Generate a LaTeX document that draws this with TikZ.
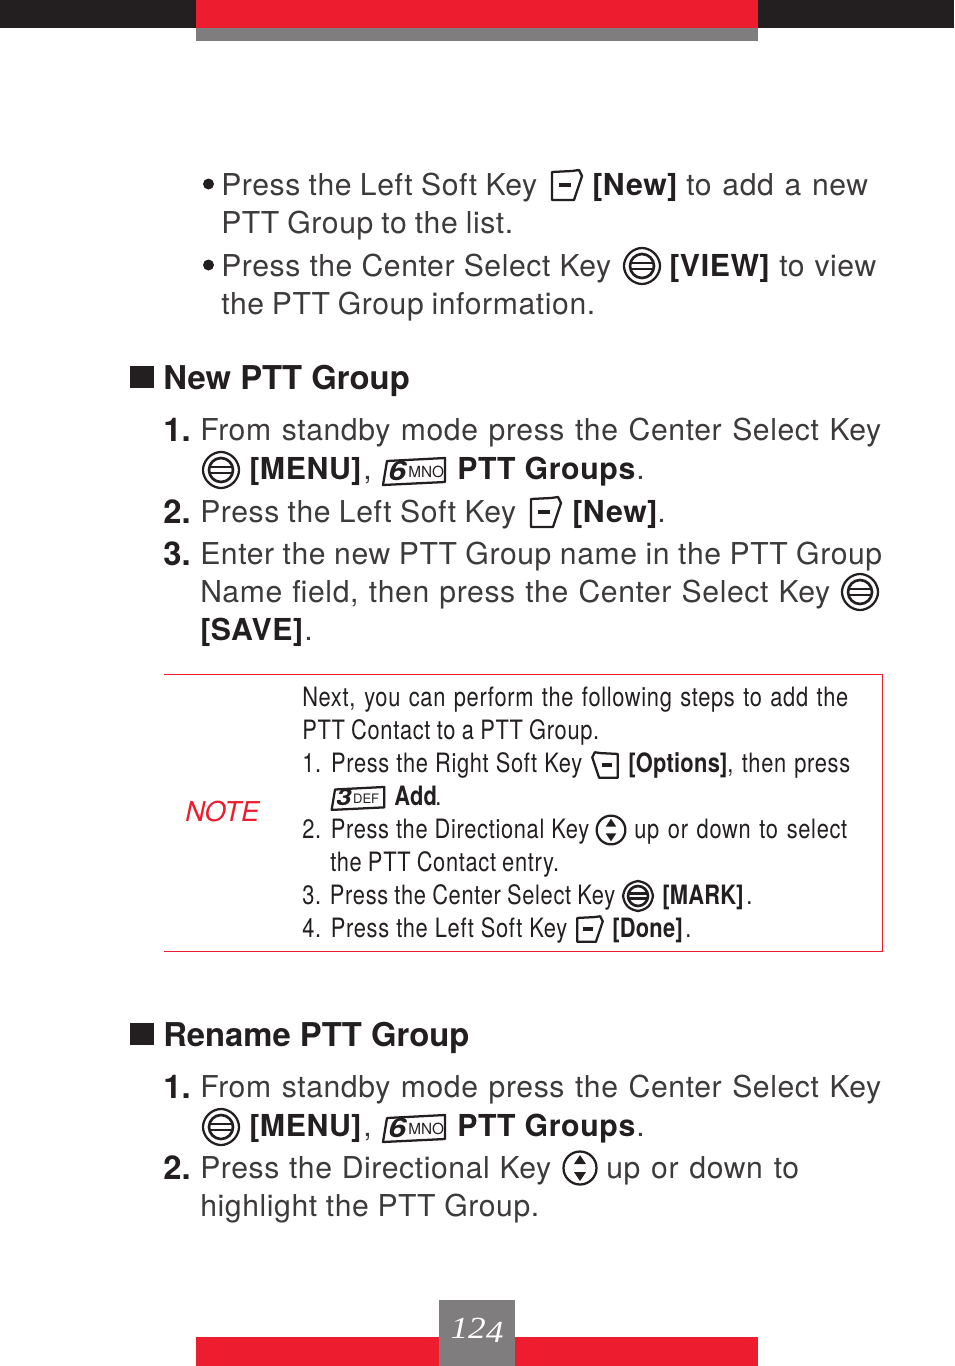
\documentclass[tikz,border=0pt]{standalone}
\usepackage{fontspec}
\setmainfont[LetterSpace=2]{TeX Gyre Heros}
\newfontfamily\headfont{TeX Gyre Heros}
\newfontfamily\notefont[FakeStretch=0.82,LetterSpace=2.5]{TeX Gyre Heros}
\newfontfamily\noteboldfont[FakeStretch=0.82,LetterSpace=1]{TeX Gyre Heros}
\newfontfamily\pagefont[FakeStretch=1.15]{Liberation Serif}
\definecolor{barred}{HTML}{ED1C2E}
\definecolor{bargray}{HTML}{7F7D7E}
\definecolor{inkblack}{HTML}{231F20}

\newlength{\pxlen}
\setlength{\pxlen}{0.75pt}
\newcommand{\fitline}[2]{\makebox[#1\pxlen][s]{#2}}

\tikzset{
    body/.style={anchor=base west,inner sep=0,xshift=-0.75pt,yshift=0.4pt,text=inkblack!88,font=\fontsize{22.6}{24}\selectfont},
    bodybold/.style={body,text=inkblack,font=\fontsize{22.7}{24}\selectfont\bfseries},
    heading/.style={anchor=base west,inner sep=0,xshift=-0.75pt,text=inkblack,font=\fontsize{24.6}{26}\headfont\bfseries},
    note/.style={anchor=base west,inner sep=0,text=inkblack,font=\fontsize{20}{22}\notefont},
    notebold/.style={note,font=\fontsize{20}{22}\noteboldfont\bfseries},
    icon/.style={draw=inkblack,line width=1.7pt,line join=round},
    pics/softkey/.style={code={
        \draw[icon] (-15,-13) -- (5,-14) -- (12,-15) -- (15,-9) -- (7,15) -- (-15,15) -- cycle;
        \draw[icon,line width=2.3pt] (-8,0) -- (4,0);
    }},
    pics/selectkey/.style={code={
        \draw[icon,rounded corners=5pt] (18,-7) -- (7,-18) -- (-7,-18) -- (-18,-7) -- (-18,7) -- (-7,18) -- (7,18) -- (18,7) -- cycle;
        \draw[icon,line width=2pt] (0,0) circle (12);
        \draw[icon,line width=1.8pt] (-12,-3) -- (12,-3);
        \draw[icon,line width=1.8pt] (-12,3) -- (12,3);
    }},
    pics/dirkey/.style={code={
        \draw[icon] (0,0) circle (16.5);
        \fill[inkblack] (0,-13) -- (6,-4) -- (-6,-4) -- cycle;
        \fill[inkblack] (0,13) -- (6,4) -- (-6,4) -- cycle;
    }},
    pics/numkey/.style 2 args={code={
        \draw[icon] (-27,-10) -- (31,-13) -- (31,11) -- (-31,14) -- cycle;
        \node (-digit) [anchor=base west,inner sep=0,transform shape,xscale=1.2,text=inkblack,font=\fontsize{20}{20}\headfont\bfseries\itshape] at (-26,9) {#1};
        \node (-letters) [anchor=base west,inner sep=0,transform shape,text=inkblack,font=\fontsize{11.5}{12}\headfont] at (-6,6.5) {#2};
    }}
}

\begin{document}
\begin{tikzpicture}[x=0.75pt,y=-0.75pt]
    \useasboundingbox (0,0) rectangle (954,1366);

    % page bars
    \fill[inkblack] (0,0) rectangle (954,28);
    \fill[barred] (196,0) rectangle (758,28);
    \fill[bargray] (196,28) rectangle (758,41);
    \fill[barred] (196,1337) rectangle (758,1366);
    \fill[bargray] (439,1300) rectangle (515,1366);
    \node (pagenum) [anchor=base,inner sep=0,text=white,font=\pagefont\itshape\fontsize{23}{24}\selectfont] at (477,1338) {12\raisebox{-3pt}{4}};

    % bullets on top
    \fill[inkblack] (208.5,184) circle (5.5);
    \node (top1) [body] at (222,196) {\fitline{316}{Press the Left Soft Key}};
    \pic (top1key) at (567,185) {softkey};
    \node (top1new) [bodybold] at (593,196) {[New]};
    \node (top1end) [body] at (687,196) {\fitline{182}{to add a new}};
    \node (top2) [body] at (222,234) {\fitline{292}{PTT Group to the list.}};
    \fill[inkblack] (208.5,265) circle (5.5);
    \node (top3) [body] at (222,277) {\fitline{390}{Press the Center Select Key}};
    \pic (top3key) at (642,266) {selectkey};
    \node (top3view) [bodybold] at (670,277) {[VIEW]};
    \node (top3end) [body] at (780,277) {\fitline{97}{to view}};
    \node (top4) [body] at (222,315) {\fitline{374}{the PTT Group information.}};

    % new group
    \fill[inkblack] (130,366) rectangle (154,388);
    \node (newhead) [heading] at (164,389) {New PTT Group};
    \node (new1num) [heading] at (164,441) {1.};
    \node (new1) [body] at (201,441) {\fitline{681}{From standby mode press the Center Select Key}};
    \pic (new1key) at (221,470) {selectkey};
    \node (new1menu) [bodybold] at (250,480) {[MENU]};
    \node (new1comma) [body] at (364,480) {,};
    \pic (new1six) at (414,471) {numkey={6}{MNO}};
    \node (new1groups) [bodybold] at (458,480) {PTT Groups};
    \node (new1dot) [body] at (637,480) {.};
    \node (new2num) [heading] at (164,523) {2.};
    \node (new2) [body] at (201,523) {\fitline{316}{Press the Left Soft Key}};
    \pic (new2key) at (546,512) {softkey};
    \node (new2new) [bodybold] at (573,523) {[New]};
    \node (new2dot) [body] at (658,523) {.};
    \node (new3num) [heading] at (164,565) {3.};
    \node (new3) [body] at (201,565) {\fitline{682}{Enter the new PTT Group name in the PTT Group}};
    \node (new4) [body] at (201,603) {\fitline{630}{Name field, then press the Center Select Key}};
    \pic (new4key) at (860,592) {selectkey};
    \node (new5) [bodybold] at (201,641) {[SAVE]};
    \node (new5dot) [body] at (305,641) {.};

    % note box
    \draw[barred,line width=0.75pt] (164,674.5) -- (882.5,674.5) -- (882.5,951.5) -- (164,951.5);
    \node (notelabel) [anchor=base west,inner sep=0,text=barred,font=\fontsize{20.5}{22}\headfont\itshape] at (185,821) {NOTE};
    \node (note1) [note] at (302,706) {\fitline{546}{Next, you can perform the following steps to add the}};
    \node (note2) [note] at (302,739) {\fitline{297}{PTT Contact to a PTT Group.}};
    \node (note3) [note] at (302,772) {\fitline{280}{1. Press the Right Soft Key}};
    \pic (note3key) [xscale=-0.85,yscale=0.85] at (605,765) {softkey};
    \node (note3opt) [notebold] at (628,772) {[Options]};
    \node (note3end) [note] at (727,772) {\fitline{123}{, then press}};
    \pic (note4three) [scale=0.85] at (358,798) {numkey={3}{DEF}};
    \node (note4add) [notebold] at (394,805) {Add};
    \node (note4dot) [note] at (435,805) {.};
    \node (note5) [note] at (302,838) {\fitline{287}{2. Press the Directional Key}};
    \pic (note5key) [scale=0.87] at (611,830) {dirkey};
    \node (note5end) [note] at (634,838) {\fitline{213}{up or down to select}};
    \node (note6) [note] at (330,871) {\fitline{229}{the PTT Contact entry.}};
    \node (note7) [note] at (302,904) {\fitline{313}{3. Press the Center Select Key}};
    \pic (note7key) [scale=0.83] at (638,896) {selectkey};
    \node (note7mark) [notebold] at (662,904) {[MARK]};
    \node (note7dot) [note] at (746,904) {.};
    \node (note8) [note] at (302,937) {\fitline{265}{4. Press the Left Soft Key}};
    \pic (note8key) [scale=0.85] at (590,929) {softkey};
    \node (note8done) [notebold] at (612,937) {[Done]};
    \node (note8dot) [note] at (685,937) {.};

    % rename group
    \fill[inkblack] (130,1023) rectangle (154,1045);
    \node (renhead) [heading] at (164,1046) {Rename PTT Group};
    \node (ren1num) [heading] at (164,1098) {1.};
    \node (ren1) [body] at (201,1098) {\fitline{681}{From standby mode press the Center Select Key}};
    \pic (ren1key) at (221,1127) {selectkey};
    \node (ren1menu) [bodybold] at (250,1137) {[MENU]};
    \node (ren1comma) [body] at (364,1137) {,};
    \pic (ren1six) at (414,1128) {numkey={6}{MNO}};
    \node (ren1groups) [bodybold] at (458,1137) {PTT Groups};
    \node (ren1dot) [body] at (637,1137) {.};
    \node (ren2num) [heading] at (164,1179) {2.};
    \node (ren2) [body] at (201,1179) {\fitline{351}{Press the Directional Key}};
    \pic (ren2key) at (580,1168) {dirkey};
    \node (ren2end) [body] at (607,1179) {\fitline{193}{up or down to}};
    \node (ren3) [body] at (201,1217) {\fitline{339}{highlight the PTT Group.}};
\end{tikzpicture}
\end{document}
